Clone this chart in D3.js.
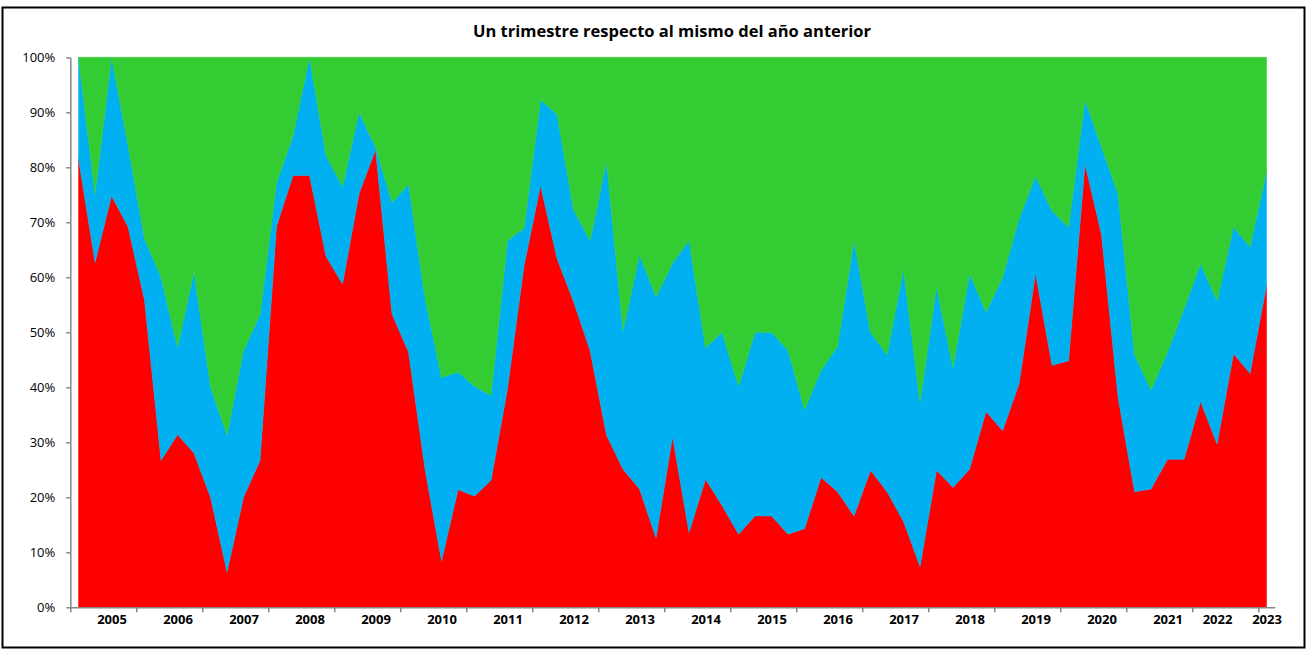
<!DOCTYPE html>
<html>
<head>
<meta charset="utf-8">
<script src="https://cdn.jsdelivr.net/npm/d3@7"></script>
<style>
  html, body { margin: 0; padding: 0; background: #fff; }
  svg { display: block; }
</style>
</head>
<body>
<svg id="chart" width="1307" height="651"></svg>
<script>
// ---- Data ----
const title = "Un trimestre respecto al mismo del año anterior";

const categories = [
  "", "", "2005", "", "", "", "2006", "", "", "", "2007", "", "", "",
  "2008", "", "", "", "2009", "", "", "", "2010", "", "", "", "2011", "",
  "", "", "2012", "", "", "", "2013", "", "", "", "2014", "", "", "",
  "2015", "", "", "", "2016", "", "", "", "2017", "", "", "", "2018", "",
  "", "", "2019", "", "", "", "2020", "", "", "", "2021", "", "", "2022",
  "", "", "2023"
];

const redValues = [
  81.5, 62.7, 74.8, 69.2, 55.8, 26.7, 31.4, 28.0, 20.0, 6.4, 20.0, 26.7,
  69.3, 78.5, 78.5, 63.8, 58.8, 75.2, 83.2, 53.3, 46.4, 25.1, 8.4, 21.4,
  20.2, 23.1, 39.8, 62.1, 76.7, 63.4, 55.6, 46.7, 31.3, 25.1, 21.5, 12.6,
  31.0, 13.6, 23.3, 18.5, 13.3, 16.6, 16.6, 13.3, 14.3, 23.6, 21.0, 16.6,
  24.9, 21.0, 15.6, 7.4, 24.9, 21.8, 25.1, 35.6, 32.1, 40.6, 60.7, 44.0,
  44.8, 80.6, 67.7, 38.2, 21.0, 21.5, 26.9, 26.9, 37.4, 29.7, 46.1, 42.5,
  58.5
];

const blueValues = [
  18.5, 12.4, 25.2, 14.8, 11.2, 33.3, 15.9, 33.0, 20.1, 24.9, 26.7, 26.5,
  7.9, 7.2, 21.5, 18.3, 17.7, 14.8, 0.5, 20.3, 30.5, 31.1, 33.4, 21.4,
  20.0, 15.4, 26.9, 6.8, 15.6, 26.2, 16.7, 20.0, 49.8, 25.2, 42.6, 43.8,
  31.6, 53.1, 23.9, 31.5, 26.9, 33.4, 33.4, 33.4, 21.6, 19.5, 26.4, 50.1,
  25.1, 24.9, 45.9, 29.8, 33.4, 21.8, 35.6, 18.1, 27.9, 30.0, 17.7, 28.1,
  24.3, 11.7, 16.0, 37.0, 24.9, 18.0, 19.5, 27.4, 25.1, 26.0, 23.1, 23.0,
  20.7
];

const greenValues = [
  0.0, 24.9, 0.0, 16.0, 33.0, 40.0, 52.7, 39.0, 59.9, 68.7, 53.3, 46.8,
  22.8, 14.3, 0.0, 17.9, 23.5, 10.0, 16.3, 26.4, 23.1, 43.8, 58.2, 57.2,
  59.8, 61.5, 33.3, 31.1, 7.7, 10.4, 27.7, 33.3, 18.9, 49.7, 35.9, 43.6,
  37.4, 33.3, 52.8, 50.0, 59.8, 50.0, 50.0, 53.3, 64.1, 56.9, 52.6, 33.3,
  50.0, 54.1, 38.5, 62.8, 41.7, 56.4, 39.3, 46.3, 40.0, 29.4, 21.6, 27.9,
  30.9, 7.7, 16.3, 24.8, 54.1, 60.5, 53.6, 45.7, 37.5, 44.3, 30.8, 34.5,
  20.8
];

const yTicks = [0, 10, 20, 30, 40, 50, 60, 70, 80, 90, 100];
const seriesKeys = ["red", "blue", "green"];
const seriesColors = { red: "#FF0000", blue: "#00B0F0", green: "#33CC33" };

// ---- Build table ----
const table = categories.map((c, i) => ({
  idx: i,
  red: redValues[i],
  blue: blueValues[i],
  green: greenValues[i]
}));

// ---- Layout ----
const svg = d3.select("#chart");
const plot = { left: 70.3, right: 1274.8, top: 57.3, bottom: 607.3 };

// outer border
svg.append("rect")
  .attr("x", 2.5).attr("y", 7.5)
  .attr("width", 1302).attr("height", 640)
  .attr("fill", "#fff")
  .attr("stroke", "#000").attr("stroke-width", 2);

const x = d3.scalePoint()
  .domain(d3.range(categories.length))
  .range([plot.left, plot.right])
  .padding(0.5);

const xb = d3.scaleLinear()
  .domain([0, categories.length])
  .range([plot.left, plot.right]);

const y = d3.scaleLinear()
  .domain([0, 100])
  .range([plot.bottom, plot.top]);

// stacked, normalized to 100%
const stack = d3.stack()
  .keys(seriesKeys)
  .offset(d3.stackOffsetExpand);
const stacked = stack(table);

const area = d3.area()
  .x(d => x(d.data.idx))
  .y0(d => y(d[0] * 100))
  .y1(d => y(d[1] * 100));

svg.append("g")
  .selectAll("path")
  .data(stacked)
  .join("path")
  .attr("d", area)
  .attr("fill", d => seriesColors[d.key])
  .attr("stroke", d => seriesColors[d.key])
  .attr("stroke-width", 0.5);

// Y axis
const yAxis = svg.append("g")
  .attr("transform", `translate(${plot.left},0)`)
  .call(d3.axisLeft(y)
    .tickValues(yTicks)
    .tickFormat(d => d + "%")
    .tickSize(4)
    .tickSizeOuter(0)
    .tickPadding(11));
yAxis.select(".domain").attr("stroke", "#868686").attr("stroke-width", 1.5);
yAxis.selectAll(".tick line").attr("stroke", "#868686").attr("stroke-width", 1.5);
yAxis.selectAll(".tick text")
  .attr("fill", "#000")
  .style("font-family", "'Open Sans', sans-serif")
  .style("font-size", "13px");

// X axis: tick marks every 4 categories
const xAxis = svg.append("g")
  .attr("transform", `translate(0,${plot.bottom})`)
  .call(d3.axisBottom(xb)
    .tickValues(d3.range(0, categories.length, 4))
    .tickFormat("")
    .tickSize(5)
    .tickSizeOuter(0));
xAxis.select(".domain").attr("stroke", "#868686").attr("stroke-width", 1.5);
xAxis.selectAll(".tick line").attr("stroke", "#868686").attr("stroke-width", 1.5);

// X labels (categories with text)
const labelled = categories.map((c, i) => i).filter(i => categories[i] !== "");
const xLabels = svg.append("g")
  .attr("transform", `translate(0,${plot.bottom})`)
  .call(d3.axisBottom(x)
    .tickValues(labelled)
    .tickFormat(i => categories[i])
    .tickSize(0)
    .tickPadding(7));
xLabels.select(".domain").remove();
xLabels.selectAll(".tick text")
  .attr("fill", "#000")
  .style("font-family", "'Open Sans', sans-serif")
  .style("font-weight", "bold")
  .style("font-size", "13px");

// Title
svg.append("text")
  .attr("x", 672)
  .attr("y", 37)
  .attr("text-anchor", "middle")
  .style("font-family", "'Open Sans', sans-serif")
  .style("font-weight", "bold")
  .style("font-size", "16.5px")
  .attr("fill", "#000")
  .text(title);
</script>
</body>
</html>
